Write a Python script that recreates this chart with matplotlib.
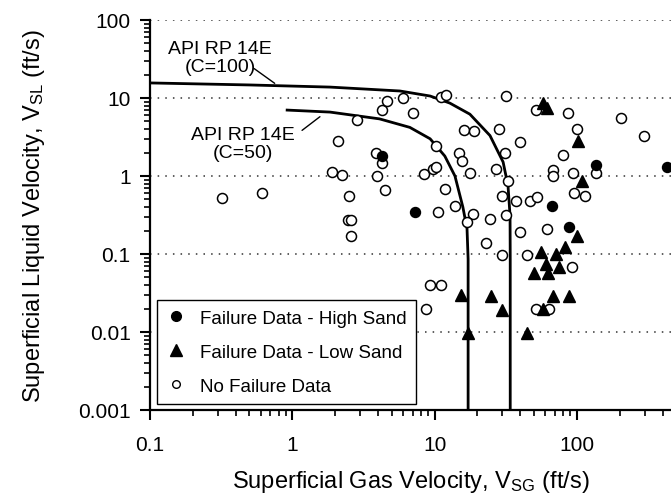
import matplotlib
matplotlib.use('Agg')
import matplotlib.pyplot as plt
import numpy as np

plt.rcParams['font.family'] = ['Liberation Sans', 'DejaVu Sans']
plt.rcParams['mathtext.fontset'] = 'custom'
plt.rcParams['mathtext.rm'] = 'Liberation Sans'
plt.rcParams['mathtext.it'] = 'Liberation Sans'

# API RP 14E erosional limit curves
c100_vsg = [0.1, 0.5, 1.84, 5.7, 9.3, 12.8, 17.7, 24.5, 30.3, 32.8, 33.9, 34.0, 34.0]
c100_vsl = [15.6, 14.7, 13.8, 12.3, 10.6, 8.6, 6.2, 3.3, 1.51, 0.75, 0.31, 0.086, 0.001]
c50_vsg = [0.92, 1.84, 4.1, 6.7, 9.3, 11.8, 13.9, 15.8, 16.9, 17.2, 17.2]
c50_vsl = [7.0, 6.6, 5.4, 4.2, 3.0, 1.8, 1.0, 0.40, 0.21, 0.086, 0.001]

# failure data - high sand
high_vsg = [4.3, 7.3, 67, 88, 136, 430]
high_vsl = [1.8, 0.35, 0.41, 0.22, 1.38, 1.3]

# failure data - low sand
low_vsg = [57.8, 61.7, 102, 109, 100, 82, 56, 71.3, 50, 62.7, 61, 74.8,
           68, 88, 58, 44.6, 15.3, 24.9, 29.8, 17.2]
low_vsl = [8.6, 7.4, 2.8, 0.86, 0.17, 0.123, 0.105, 0.1, 0.057, 0.057, 0.074, 0.068,
           0.029, 0.029, 0.0197, 0.0097, 0.030, 0.029, 0.019, 0.0097]

# no failure data
nf_vsg = [0.32, 0.61, 1.9, 2.23, 2.09, 2.85, 2.5, 2.45, 2.6, 2.6,
          3.94, 3.9, 4.3, 4.5, 4.3, 4.6, 6.0, 7.0, 8.4, 9.75,
          10.2, 10.2, 10.5, 11.8, 13.9, 11.1, 12.0, 14.8, 15.7, 16.0,
          19.0, 17.7, 18.7, 17.0, 23.0, 24.5, 28.4, 27.0, 31.3, 32.0,
          33.0, 30.0, 32.0, 37.3, 40.0, 40.0, 46.8, 52.5, 51.6, 62.0,
          68.0, 68.0, 80.0, 86.5, 100, 94, 96, 114, 136, 204,
          296, 9.3, 11.1, 8.7, 29.8, 44.6, 92.5, 52.0, 64.0]
nf_vsl = [0.52, 0.60, 1.12, 1.03, 2.8, 5.2, 0.55, 0.27, 0.27, 0.17,
          1.0, 2.0, 1.47, 0.66, 7.0, 9.2, 10.0, 6.4, 1.06, 1.23,
          1.30, 2.4, 0.35, 0.68, 0.41, 10.3, 10.9, 1.97, 1.56, 3.9,
          3.8, 1.09, 0.33, 0.26, 0.14, 0.28, 4.0, 1.23, 2.0, 10.6,
          0.86, 0.55, 0.32, 0.48, 2.7, 0.19, 0.48, 0.54, 7.0, 0.21,
          1.2, 1.0, 1.86, 6.4, 4.0, 1.09, 0.6, 0.55, 1.09, 5.5,
          3.3, 0.040, 0.040, 0.020, 0.097, 0.097, 0.068, 0.0197, 0.0197]

fig = plt.figure(figsize=(6.71, 5.02), dpi=100)
ax = fig.add_axes([150 / 671, 91 / 502, 521 / 671, 390 / 502])
ax.set_xscale('log')
ax.set_yscale('log')
ax.set_xlim(0.1, 10 ** (-1 + 521 / 142.3))
ax.set_ylim(0.001, 100)

for yv in [100, 10, 1, 0.1, 0.01]:
    ax.axhline(yv, color='#333333', lw=1.1, ls=(0, (1, 4)), zorder=1)

ax.plot(c100_vsg, c100_vsl, color='black', lw=2.0, zorder=2)
ax.plot(c50_vsg, c50_vsl, color='black', lw=2.0, zorder=2)

ax.plot(nf_vsg, nf_vsl, 'o', ms=7.2, mfc='white', mec='black', mew=1.1, ls='none',
        zorder=3)
ax.plot(high_vsg, high_vsl, 'o', ms=7.2, color='black', ls='none', zorder=4)
ax.plot(low_vsg, low_vsl, '^', ms=8.5, color='black', ls='none', zorder=4)

# legend with smaller markers
h1, = ax.plot([], [], 'o', ms=7, color='black', ls='none')
h2, = ax.plot([], [], '^', ms=8.5, color='black', ls='none')
h3, = ax.plot([], [], 'o', ms=5.5, mfc='white', mec='black', mew=1.0, ls='none')
leg = ax.legend([h1, h2, h3],
                ['Failure Data - High Sand', 'Failure Data - Low Sand', 'No Failure Data'],
                loc='lower left', bbox_to_anchor=(0.013, 0.015), borderaxespad=0,
                fontsize=13.5, frameon=True, fancybox=False, framealpha=1,
                edgecolor='black', labelspacing=0.9, handlelength=1.0,
                handletextpad=0.8, borderpad=0.5)
leg.get_frame().set_linewidth(1.0)
leg.set_zorder(5)

ax.text(0.31, 33, 'API RP 14E\n(C=100)', ha='center', va='center', fontsize=14,
        multialignment='center', linespacing=1.1)
ax.text(0.45, 2.6, 'API RP 14E\n(C=50)', ha='center', va='center', fontsize=14,
        multialignment='center', linespacing=1.1)
ax.annotate('', xy=(0.78, 14.7), xytext=(0.52, 25),
            arrowprops=dict(arrowstyle='-', color='black', lw=1.0))
ax.annotate('', xy=(1.62, 6.05), xytext=(1.13, 3.66),
            arrowprops=dict(arrowstyle='-', color='black', lw=1.0))

for s in ['top', 'right']:
    ax.spines[s].set_visible(False)
for s in ['left', 'bottom']:
    ax.spines[s].set_linewidth(1.6)

ax.set_xticks([0.1, 1, 10, 100])
ax.set_xticklabels(['0.1', '1', '10', '100'])
ax.set_yticks([0.001, 0.01, 0.1, 1, 10, 100])
ax.set_yticklabels(['0.001', '0.01', '0.1', '1', '10', '100'])
ax.tick_params(which='major', direction='out', length=7, width=1.5, labelsize=15)
ax.tick_params(which='minor', direction='out', length=4, width=1.2)
ax.tick_params(axis='x', which='major', pad=11)
ax.tick_params(axis='y', which='major', pad=7)

ax.set_xlabel(r'Superficial Gas Velocity, V$_{\mathrm{SG}}$ (ft/s)', fontsize=17,
              labelpad=10)
ax.set_ylabel(r'Superficial Liquid Velocity, V$_{\mathrm{SL}}$ (ft/s)', fontsize=17,
              labelpad=22)

fig.savefig('out.png', dpi=100)
